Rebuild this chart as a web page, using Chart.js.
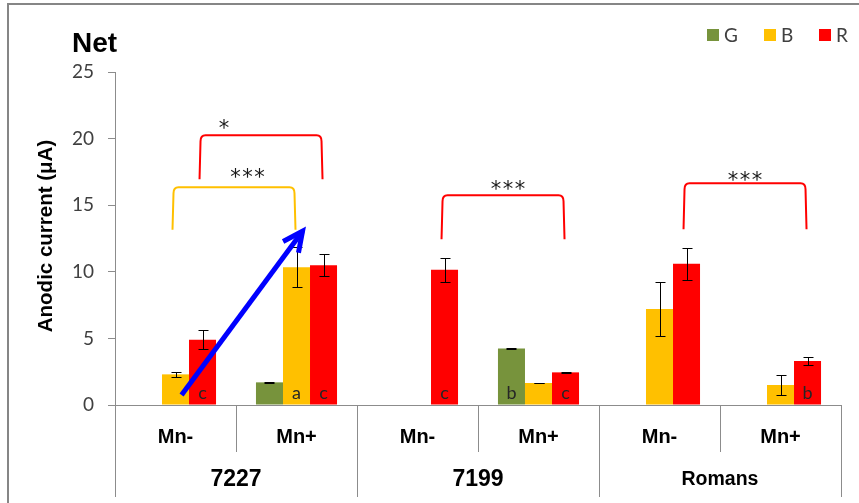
<!DOCTYPE html>
<html>
<head>
<meta charset="utf-8">
<script src="https://cdn.jsdelivr.net/npm/chart.js@4/dist/chart.umd.min.js"></script>
<style>
  html, body { margin: 0; padding: 0; background: #ffffff; }
  #wrap { width: 859px; height: 503px; position: relative; }
</style>
</head>
<body>
<div id="wrap"><canvas id="chart" width="859" height="503"></canvas></div>
<script>
// Treatment categories (inner axis level) and strains (outer axis level)
const categories = ['Mn-', 'Mn+', 'Mn-', 'Mn+', 'Mn-', 'Mn+'];
const groups = ['7227', '7199', 'Romans'];
const seriesNames = ['G', 'B', 'R'];
const seriesColors = ['#77933C', '#FFC000', '#FF0000'];

// Net anodic current (µA), mean and error per series
const gValues = [null, 1.7, null, 4.25, null, null];
const gErrors = [null, 0.03, null, 0.03, null, null];
const bValues = [2.3, 10.35, null, 1.65, 7.2, 1.5];
const bErrors = [0.2, 1.5, null, 0.03, 2.05, 0.75];
const rValues = [4.9, 10.5, 10.15, 2.45, 10.6, 3.3];
const rErrors = [0.7, 0.8, 0.9, 0.03, 1.2, 0.3];

// Statistical group letters printed inside the bars
const gLetters = ['', '', '', 'b', '', ''];
const bLetters = ['', 'a', '', '', '', ''];
const rLetters = ['c', 'c', 'c', 'c', '', 'b'];

// Y axis ticks
const yTicks = [0, 5, 10, 15, 20, 25];

// Significance brackets: categories joined, series bar, values for the bar top / leg ends
const brackets = [
  { from: 0, to: 1, series: 2, top: 20.25, leg: 16.95, stars: '*',   at: 0.2,  textY: 21.0 },
  { from: 0, to: 1, series: 1, top: 16.35, leg: 13.15, stars: '***', at: 0.61, textY: 17.3 },
  { from: 2, to: 3, series: 2, top: 15.75, leg: 12.45, stars: '***', at: 0.54, textY: 16.4 },
  { from: 4, to: 5, series: 2, top: 16.65, leg: 13.2,  stars: '***', at: 0.5,  textY: 17.1 }
];

// Arrow drawn across the 7227 panel (category index, value)
const arrowFrom = [0.05, 0.75];
const arrowTo = [1.05, 13.05];

const valueSets = [gValues, bValues, rValues];
const errorSets = [gErrors, bErrors, rErrors];
const letterSets = [gLetters, bLetters, rLetters];

const FONT = 'Lato, "Open Sans", sans-serif';
const BOLD_FONT = '"Liberation Sans", Arial, sans-serif';
const AXIS_GRAY = '#8c8c8c';
const TEXT = '#404040';

const decorations = {
  id: 'decorations',
  beforeDraw(chart) {
    const ctx = chart.ctx;
    ctx.save();
    ctx.fillStyle = '#ffffff';
    ctx.fillRect(0, 0, chart.width, chart.height);
    // outer frame
    ctx.strokeStyle = '#868686';
    ctx.lineWidth = 2;
    ctx.strokeRect(8, 4, chart.width + 20, chart.height + 20);
    ctx.restore();
  },
  afterDatasetsDraw(chart) {
    const ctx = chart.ctx;
    const x = chart.scales.x;
    const y = chart.scales.y;
    const area = chart.chartArea;

    ctx.save();

    // error bars
    ctx.strokeStyle = '#000000';
    ctx.lineWidth = 1;
    valueSets.forEach((vals, di) => {
      const meta = chart.getDatasetMeta(di);
      vals.forEach((v, i) => {
        const e = errorSets[di][i];
        if (v === null || e === null) return;
        const bx = Math.round(meta.data[i].x) + 0.5;
        const yTop = Math.round(y.getPixelForValue(v + e)) + 0.5;
        const yBot = Math.round(y.getPixelForValue(v - e)) + 0.5;
        ctx.beginPath();
        ctx.moveTo(bx, yTop); ctx.lineTo(bx, yBot);
        ctx.moveTo(bx - 5, yTop); ctx.lineTo(bx + 5, yTop);
        ctx.moveTo(bx - 5, yBot); ctx.lineTo(bx + 5, yBot);
        ctx.stroke();
      });
    });

    // group letters inside bars
    ctx.fillStyle = '#262626';
    ctx.font = '18px ' + FONT;
    ctx.textAlign = 'center';
    ctx.textBaseline = 'middle';
    letterSets.forEach((letters, di) => {
      const meta = chart.getDatasetMeta(di);
      letters.forEach((t, i) => {
        if (!t) return;
        ctx.fillText(t, meta.data[i].x, area.bottom - 12);
      });
    });

    // significance brackets
    brackets.forEach(b => {
      const meta = chart.getDatasetMeta(b.series);
      const x1 = meta.data[b.from].x - 3;
      const x2 = meta.data[b.to].x - 1;
      const yt = y.getPixelForValue(b.top);
      const yl = y.getPixelForValue(b.leg);
      const r = 6;
      ctx.strokeStyle = seriesColors[b.series];
      ctx.lineWidth = 2;
      ctx.beginPath();
      ctx.moveTo(x1, yl);
      ctx.lineTo(x1 + 1, yt + r);
      ctx.quadraticCurveTo(x1 + 1, yt, x1 + r, yt);
      ctx.lineTo(x2 - r, yt);
      ctx.quadraticCurveTo(x2 - 1, yt, x2 - 1, yt + r);
      ctx.lineTo(x2, yl);
      ctx.stroke();
      // stars
      ctx.fillStyle = '#1a1a1a';
      ctx.font = '21px "DejaVu Sans", sans-serif';
      ctx.textAlign = 'center';
      ctx.textBaseline = 'middle';
      const n = b.stars.length;
      const cx = x1 + (x2 - x1) * b.at;
      const cy = y.getPixelForValue(b.textY) + 4;
      for (let k = 0; k < n; k++) {
        ctx.fillText('*', cx + (k - (n - 1) / 2) * 12, cy);
      }
    });

    // blue arrow
    const ax1 = x.getPixelForValue(arrowFrom[0]);
    const ay1 = y.getPixelForValue(arrowFrom[1]);
    const ax2 = x.getPixelForValue(arrowTo[0]);
    const ay2 = y.getPixelForValue(arrowTo[1]);
    const ang = Math.atan2(ay1 - ay2, ax1 - ax2);
    ctx.strokeStyle = '#0000FF';
    ctx.lineWidth = 5;
    ctx.lineCap = 'butt';
    ctx.lineJoin = 'miter';
    ctx.beginPath();
    ctx.moveTo(ax1, ay1);
    ctx.lineTo(ax2, ay2);
    ctx.stroke();
    const L = 22, spread = 0.45;
    ctx.beginPath();
    ctx.moveTo(ax2 + L * Math.cos(ang + spread), ay2 + L * Math.sin(ang + spread));
    ctx.lineTo(ax2, ay2);
    ctx.lineTo(ax2 + L * Math.cos(ang - spread), ay2 + L * Math.sin(ang - spread));
    ctx.stroke();

    ctx.restore();
  },
  afterDraw(chart) {
    const ctx = chart.ctx;
    const x = chart.scales.x;
    const area = chart.chartArea;
    ctx.save();

    // title
    ctx.fillStyle = '#000000';
    ctx.font = 'bold 28px ' + BOLD_FONT;
    ctx.textAlign = 'left';
    ctx.textBaseline = 'alphabetic';
    ctx.fillText('Net', 72, 52);

    // y axis title
    ctx.save();
    ctx.translate(46, 236);
    ctx.rotate(-Math.PI / 2);
    ctx.font = 'bold 20.5px ' + BOLD_FONT;
    ctx.textAlign = 'center';
    ctx.textBaseline = 'middle';
    ctx.fillText('Anodic current (μA)', 0, 0);
    ctx.restore();

    // legend
    const legendX = [707, 764, 819];
    seriesNames.forEach((name, i) => {
      ctx.fillStyle = seriesColors[i];
      ctx.fillRect(legendX[i], 29, 12, 12);
      ctx.fillStyle = TEXT;
      ctx.font = '19px ' + FONT;
      ctx.textAlign = 'left';
      ctx.textBaseline = 'middle';
      ctx.fillText(name, legendX[i] + 17, 36);
    });

    // two-level category axis
    const n = categories.length;
    const step = (area.right - area.left) / n;
    ctx.strokeStyle = AXIS_GRAY;
    ctx.lineWidth = 1;
    for (let k = 0; k <= n; k++) {
      const px = Math.round(area.left + k * step) + 0.5;
      const long = k % 2 === 0;
      ctx.beginPath();
      ctx.moveTo(px, area.bottom);
      ctx.lineTo(px, long ? area.bottom + 92 : area.bottom + 47);
      ctx.stroke();
    }
    ctx.fillStyle = '#000000';
    ctx.textAlign = 'center';
    ctx.textBaseline = 'middle';
    ctx.font = 'bold 20px ' + BOLD_FONT;
    categories.forEach((c, i) => {
      ctx.fillText(c, x.getPixelForValue(i), area.bottom + 32);
    });
    groups.forEach((g, gi) => {
      const cx = (x.getPixelForValue(gi * 2) + x.getPixelForValue(gi * 2 + 1)) / 2;
      ctx.font = (g.length > 4 ? 'bold 19.5px ' : 'bold 23px ') + BOLD_FONT;
      ctx.fillText(g, cx, area.bottom + 75);
    });
    ctx.restore();
  }
};

new Chart(document.getElementById('chart'), {
  type: 'bar',
  data: {
    labels: categories,
    datasets: seriesNames.map((name, i) => ({
      label: name,
      data: valueSets[i],
      backgroundColor: seriesColors[i],
      borderWidth: 0,
      barPercentage: 1.0,
      categoryPercentage: 0.67
    }))
  },
  options: {
    responsive: false,
    animation: false,
    devicePixelRatio: 1,
    layout: { padding: { top: 72, right: 18, left: 0, bottom: 0 } },
    plugins: {
      legend: { display: false },
      title: { display: false },
      tooltip: { enabled: false }
    },
    scales: {
      x: {
        type: 'category',
        grid: { display: false },
        border: { display: true, color: AXIS_GRAY, width: 1 },
        ticks: { display: false },
        afterFit(scale) { scale.height = 98; }
      },
      y: {
        min: 0,
        max: 25,
        afterBuildTicks(scale) { scale.ticks = yTicks.map(v => ({ value: v })); },
        grid: { display: true, drawOnChartArea: false, drawTicks: true, tickLength: 7, color: AXIS_GRAY },
        border: { display: true, color: AXIS_GRAY, width: 1 },
        ticks: { color: TEXT, font: { family: FONT, size: 19 }, padding: 14 },
        afterFit(scale) { scale.width = 115; }
      }
    }
  },
  plugins: [decorations]
});
</script>
</body>
</html>
